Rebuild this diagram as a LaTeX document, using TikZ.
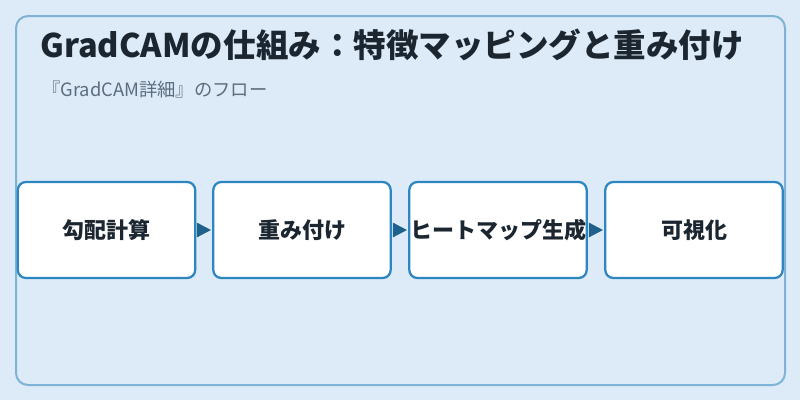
\documentclass[tikz,border=0pt]{standalone}
\usepackage{fontspec}
\setmainfont{Noto Sans CJK JP}
\usetikzlibrary{arrows.meta}
\definecolor{pagebg}{HTML}{DCEBF7}
\definecolor{frameline}{HTML}{7FB3D5}
\definecolor{boxline}{HTML}{2E86C1}
\definecolor{arrowblue}{HTML}{1F618D}
\definecolor{ink}{HTML}{1B2631}
\definecolor{subink}{HTML}{5D6D7E}
\begin{document}
\begin{tikzpicture}[x=0.75pt, y=-0.75pt,
    stepbox/.style={draw=boxline, line width=1.7pt, fill=white, rounded corners=6pt,
      minimum width=133pt, minimum height=72pt, inner sep=0pt,
      font=\bfseries\fontsize{16.5}{19}\selectfont, text=ink},
    flow/.style={arrowblue, line width=0.4pt, shorten <=2pt, shorten >=1pt,
      -{Triangle[length=10.5pt, width=11pt]}}]
      \fill [pagebg] (0, 0) rectangle (800, 400);
      \useasboundingbox (0, 0) rectangle (800, 400);
      \draw [frameline, line width=1.5pt, rounded corners=9pt] (16, 16) rectangle (785, 385);
      \node (title) [anchor=base west, text=ink, inner sep=0pt,
            font=\bfseries\fontsize{24.4}{28}\selectfont] at (40, 57)
            {GradCAMの仕組み：特徴マッピングと重み付け};
      \node (sub) [anchor=base west, text=subink, inner sep=0pt,
            font=\fontsize{13.75}{16}\selectfont] at (42, 96)
            {『GradCAM詳細』のフロー};
      \node (grad) [stepbox] at (106.5, 230) {勾配計算};
      \node (weight) [stepbox] at (302, 230) {重み付け};
      \node (heat) [stepbox] at (498, 230) {ヒートマップ生成};
      \node (vis) [stepbox] at (694, 230) {可視化};
      \draw [flow] (grad) -- (weight);
      \draw [flow] (weight) -- (heat);
      \draw [flow] (heat) -- (vis);
\end{tikzpicture}
\end{document}
